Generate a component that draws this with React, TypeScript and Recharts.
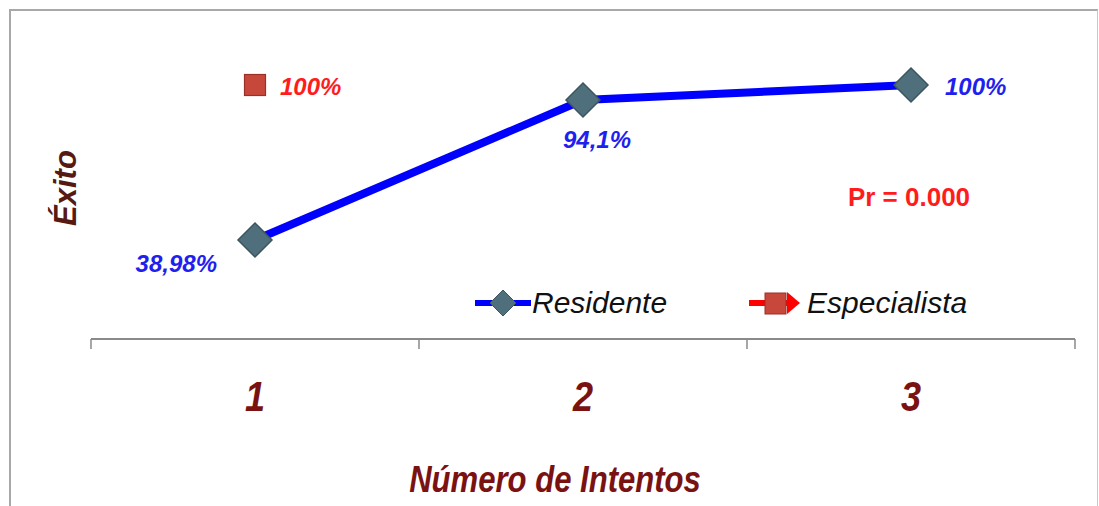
import { LineChart, Line, XAxis, YAxis } from "recharts";

// número de intento y porcentaje de éxito por grupo
const intentos = [1, 2, 3];
const residente = [38.98, 94.1, 100];
const especialista: (number | null)[] = [100, null, null];
// límites entre categorías (marcas del eje) y posiciones de las etiquetas
const bordesEje = [0.5, 1.5, 2.5, 3.5];
const ticksEje = [0.5, 1, 1.5, 2, 2.5, 3, 3.5];
const series = ["Residente", "Especialista"];
const pValor = "Pr = 0.000";

const data = intentos.map((n, i) => ({
  intento: n,
  residente: residente[i],
  especialista: especialista[i],
}));

const AZUL = "#1f1ff0";
const ROJO = "#ff1c1c";
const GRANATE = "#7a1212";
const ARIAL = "'Liberation Sans', Arial, sans-serif";

const fmt = (v: number) => `${String(v).replace(".", ",")}%`;

function Rombo(props: any) {
  const { cx, cy } = props;
  if (cx == null || cy == null) return null;
  const r = 17;
  return (
    <polygon
      points={`${cx},${cy - r} ${cx + r},${cy} ${cx},${cy + r} ${cx - r},${cy}`}
      fill="#4f6f7d"
      stroke="#3c5561"
      strokeWidth={1.5}
    />
  );
}

function Cuadro(props: any) {
  const { cx, cy, value } = props;
  if (cx == null || cy == null || value == null) return null;
  return <rect x={cx - 10.5} y={cy - 10.5} width={21} height={21} fill="#c8473b" stroke="#9a3027" strokeWidth={1.2} />;
}

// cada etiqueta de Residente va en un sitio distinto alrededor del punto
function EtiquetaResidente(props: any) {
  const { x, y, value, index } = props;
  const pos = [
    { dx: -38, dy: 32, anchor: "end" },
    { dx: -20, dy: 48, anchor: "start" },
    { dx: 34, dy: 10, anchor: "start" },
  ][index];
  return (
    <text x={x + pos.dx} y={y + pos.dy} textAnchor={pos.anchor} fill={AZUL} fontFamily={ARIAL} fontWeight="bold" fontStyle="italic" fontSize={24}>
      {fmt(value)}
    </text>
  );
}

function EtiquetaEspecialista(props: any) {
  const { x, y, value } = props;
  if (value == null) return null;
  return (
    <text x={x + 25} y={y + 10} fill={ROJO} fontFamily={ARIAL} fontWeight="bold" fontStyle="italic" fontSize={24}>
      {fmt(value)}
    </text>
  );
}

// texto estrecho: Arial comprimido en horizontal
function TextoEstrecho({ x, y, size, children }: any) {
  return (
    <text
      transform={`translate(${x},${y}) scale(0.84,1)`}
      textAnchor="middle"
      fill={GRANATE}
      fontFamily={ARIAL}
      fontWeight="bold"
      fontStyle="italic"
      fontSize={size}
    >
      {children}
    </text>
  );
}

function TickIntento(props: any) {
  const { x, y, payload } = props;
  if (bordesEje.includes(payload.value)) {
    return <line x1={x} x2={x} y1={y} y2={y + 10} stroke="#8a8a8a" strokeWidth={1.5} />;
  }
  return (
    <TextoEstrecho x={x} y={y + 72} size={43}>
      {payload.value}
    </TextoEstrecho>
  );
}

function Leyenda() {
  const txt = { fontFamily: ARIAL, fontStyle: "italic", fontSize: 30, color: "#111", lineHeight: "36px", whiteSpace: "nowrap" } as const;
  return (
    <div style={{ position: "absolute", left: 474, top: 285, display: "flex", alignItems: "center", height: 36 }}>
      <svg width={58} height={36}>
        <line x1={1} x2={57} y1={18} y2={18} stroke="#0000ff" strokeWidth={6} />
        <polygon points="29,5 42,18 29,31 16,18" fill="#4f6f7d" stroke="#3c5561" />
      </svg>
      <span style={txt}>{series[0]}</span>
      <svg width={58} height={36} style={{ marginLeft: 82 }}>
        <line x1={0} x2={44} y1={18} y2={18} stroke="#ff0000" strokeWidth={6} />
        <polygon points="38,7 51,18 38,29" fill="#ff0000" />
        <rect x={16} y={8} width={21} height={21} fill="#c8473b" stroke="#9a3027" />
      </svg>
      <span style={txt}>{series[1]}</span>
    </div>
  );
}

export default function App() {
  return (
    <div style={{ position: "absolute", left: 0, top: 0, width: 1099, height: 506, background: "#fff", overflow: "hidden" }}>
      <div
        style={{
          position: "absolute",
          left: 9,
          top: 9,
          width: 1086,
          height: 520,
          borderTop: "2px solid #a8a8a8",
          borderLeft: "2px solid #a8a8a8",
          borderRight: "1px solid #c8c8c8",
        }}
      />
      <LineChart width={1099} height={506} data={data} margin={{ top: 85, right: 24, bottom: 0, left: 31 }} style={{ position: "absolute", left: 0, top: 0 }}>
        <XAxis
          dataKey="intento"
          type="number"
          domain={[0.5, 3.5]}
          ticks={ticksEje}
          interval={0}
          height={167}
          tickSize={0}
          tickMargin={0}
          tickLine={false}
          axisLine={{ stroke: "#8a8a8a", strokeWidth: 2 }}
          tick={<TickIntento />}
          label={{
            content: ({ viewBox }: any) => (
              <TextoEstrecho x={viewBox.x + viewBox.width / 2 - 28} y={viewBox.y + 153} size={37}>
                Número de Intentos
              </TextoEstrecho>
            ),
          }}
        />
        <YAxis
          type="number"
          domain={[0, 100]}
          width={60}
          tick={false}
          axisLine={false}
          tickLine={false}
          label={{
            content: ({ viewBox }: any) => (
              <text
                x={viewBox.x + 34}
                y={188}
                transform={`rotate(-90, ${viewBox.x + 34}, 188)`}
                textAnchor="middle"
                dominantBaseline="central"
                fill="#561a12"
                fontFamily={ARIAL}
                fontWeight="bold"
                fontStyle="italic"
                fontSize={31}
              >
                Éxito
              </text>
            ),
          }}
        />
        <Line
          dataKey="residente"
          name={series[0]}
          stroke="#0000ff"
          strokeWidth={8}
          dot={<Rombo />}
          activeDot={false}
          isAnimationActive={false}
          label={<EtiquetaResidente />}
        />
        <Line
          dataKey="especialista"
          name={series[1]}
          stroke="#ff0000"
          strokeWidth={4}
          dot={<Cuadro />}
          activeDot={false}
          isAnimationActive={false}
          label={<EtiquetaEspecialista />}
        />
        <text x={909} y={206} textAnchor="middle" fill={ROJO} fontFamily={ARIAL} fontWeight="bold" fontSize={26}>
          {pValor}
        </text>
      </LineChart>
      <Leyenda />
    </div>
  );
}
